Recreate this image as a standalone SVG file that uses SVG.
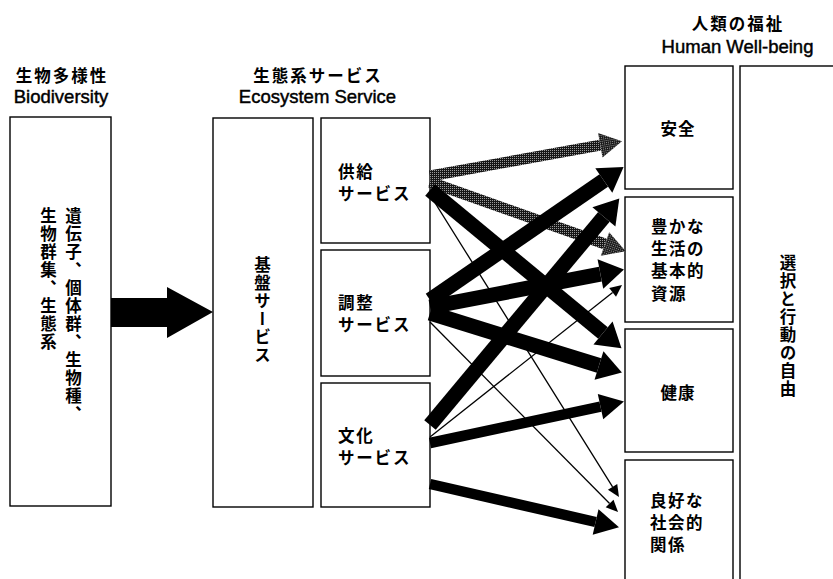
<svg xmlns="http://www.w3.org/2000/svg" width="833" height="579" viewBox="0 0 833 579">
<style>
.box{fill:#fff;stroke:#000;stroke-width:1.4}
.jp{font-family:"Noto Sans CJK JP","Noto Sans CJK SC",sans-serif;font-weight:700;font-size:16.5px;fill:#000}
.en{font-family:"Liberation Sans",Arial,sans-serif;font-size:18.5px;fill:#000;stroke:#000;stroke-width:0.45}
.vt{writing-mode:vertical-rl;letter-spacing:1.5px}
.ttl{text-anchor:middle;letter-spacing:2px}
.big{stroke:#000;stroke-width:15;fill:none}
.med{stroke:#000;stroke-width:10.5;fill:none}
.gry{stroke:url(#dots);stroke-width:11;fill:none}
.thin{stroke:#000;stroke-width:1.3;fill:none}
.bigA{marker-end:url(#hBig)}
.medA{marker-end:url(#hMed)}
.gryA{marker-end:url(#hGray)}
.thinA{marker-end:url(#hThin)}
</style>
<defs>
<pattern id="dots" width="2" height="2" patternUnits="userSpaceOnUse">
<rect width="2" height="2" fill="#161616"/>
<rect width="1" height="1" fill="#9a9a9a"/>
</pattern>
<marker id="hBig" markerUnits="userSpaceOnUse" markerWidth="30" markerHeight="34" refX="0" refY="0" orient="auto" overflow="visible">
<path d="M0,-15 L24,0 L0,15 z" fill="#000"/>
</marker>
<marker id="hMed" markerUnits="userSpaceOnUse" markerWidth="30" markerHeight="30" refX="0" refY="0" orient="auto" overflow="visible">
<path d="M0,-13 L24,0 L0,13 z" fill="#000"/>
</marker>
<marker id="hGray" markerUnits="userSpaceOnUse" markerWidth="30" markerHeight="30" refX="0" refY="0" orient="auto" overflow="visible">
<path d="M0,-12.5 L22,0 L0,12.5 z" fill="url(#dots)"/>
</marker>
<marker id="hThin" markerUnits="userSpaceOnUse" markerWidth="14" markerHeight="14" refX="0" refY="0" orient="auto" overflow="visible">
<path d="M0,-5.5 L12,0 L0,5.5 z" fill="#000"/>
</marker>
</defs>
<rect width="833" height="579" fill="#fff"/>

<!-- Column titles -->
<g id="title-biodiversity">
<text class="jp ttl" x="62" y="82">生物多様性</text>
<text class="en" x="61" y="103" text-anchor="middle">Biodiversity</text>
</g>
<g id="title-ecosystem">
<text class="jp ttl" x="318" y="82">生態系サービス</text>
<text class="en" x="317.5" y="103" text-anchor="middle">Ecosystem Service</text>
</g>
<g id="title-wellbeing">
<text class="jp ttl" x="738" y="30">人類の福祉</text>
<text class="en" x="737.5" y="52.5" text-anchor="middle">Human Well-being</text>
</g>

<!-- Nodes -->
<g id="biodiversity">
<rect class="box" x="10" y="117" width="101" height="389"/>
<text class="jp vt" x="73.5" y="207">遺伝子、個体群、生物種、</text>
<text class="jp vt" x="48.5" y="207">生物群集、生態系</text>
</g>
<g id="supporting">
<rect class="box" x="213" y="118" width="100" height="389"/>
<text class="jp vt" x="262.5" y="256">基盤サービス</text>
</g>
<g id="provisioning">
<rect class="box" x="321" y="118" width="109" height="125"/>
<text class="jp" x="338" y="178" letter-spacing="1.8">供給</text>
<text class="jp" x="338" y="200" letter-spacing="1.8">サービス</text>
</g>
<g id="regulating">
<rect class="box" x="321" y="250" width="109" height="126"/>
<text class="jp" x="338" y="309" letter-spacing="1.8">調整</text>
<text class="jp" x="338" y="331" letter-spacing="1.8">サービス</text>
</g>
<g id="cultural">
<rect class="box" x="321" y="383" width="109" height="124"/>
<text class="jp" x="338" y="442" letter-spacing="1.8">文化</text>
<text class="jp" x="338" y="464" letter-spacing="1.8">サービス</text>
</g>
<g id="security">
<rect class="box" x="625" y="66" width="108" height="123"/>
<text class="jp" x="678" y="134.5" text-anchor="middle" letter-spacing="1">安全</text>
</g>
<g id="basic-material">
<rect class="box" x="625" y="197" width="108" height="125"/>
<text class="jp" x="651" y="232.5" letter-spacing="1.5">豊かな</text>
<text class="jp" x="651" y="254.5" letter-spacing="1.5">生活の</text>
<text class="jp" x="651" y="277" letter-spacing="1.5">基本的</text>
<text class="jp" x="651" y="299.5" letter-spacing="1.5">資源</text>
</g>
<g id="health">
<rect class="box" x="625" y="329" width="108" height="123"/>
<text class="jp" x="678" y="398.5" text-anchor="middle" letter-spacing="1">健康</text>
</g>
<g id="social-relations">
<rect class="box" x="625" y="460" width="108" height="125"/>
<text class="jp" x="650" y="506.5" letter-spacing="1.5">良好な</text>
<text class="jp" x="650" y="528.5" letter-spacing="1.5">社会的</text>
<text class="jp" x="650" y="551" letter-spacing="1.5">関係</text>
</g>
<g id="freedom">
<rect class="box" x="740" y="66" width="110" height="525"/>
<text class="jp vt" x="788" y="254">選択と行動の自由</text>
</g>

<!-- Connectors -->
<g id="connectors">
<polygon points="111,298 167,298 167,287 213,312 167,338 167,327 111,327" fill="#000"/>
<path class="gry gryA" d="M430,176 L600.3,145.2"/>
<path class="gry gryA" d="M430,182 L605,244"/>
<path class="thin thinA" d="M432,198 L612.6,486.8"/>
<path class="thin thinA" d="M430,322 L609.6,503.5"/>
<path class="thin thinA" d="M430,437 L612.6,292.4"/>
<path class="big bigA" d="M430,190 L603,333"/>
<path class="big bigA" d="M430,300 L603.8,180.5"/>
<path class="big bigA" d="M430,425 L603.9,216.9"/>
<path class="big bigA" d="M430,307 L600.4,274.1"/>
<path class="big bigA" d="M430,313 L599,365.5"/>
<path class="med medA" d="M430,443 L600.5,406.6"/>
<path class="med medA" d="M430,484 L595.6,522"/>
</g>
</svg>
